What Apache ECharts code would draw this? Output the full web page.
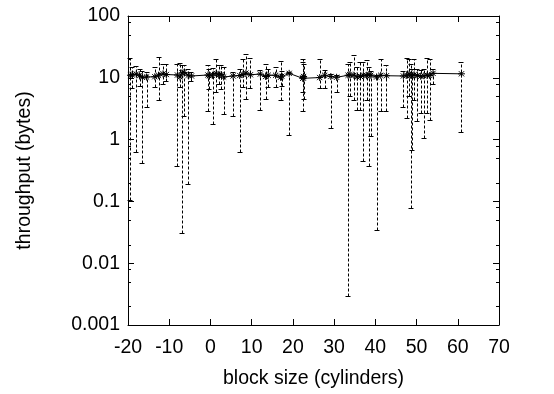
<!DOCTYPE html>
<html>
<head>
<meta charset="utf-8">
<script src="https://cdn.jsdelivr.net/npm/echarts@6/dist/echarts.min.js"></script>
<style>html,body{margin:0;padding:0;background:#fff;}#c{width:554px;height:394px;}</style>
</head>
<body>
<div id="c"></div>
<script>
const blockSize = [-19.4,-19.0,-18.0,-17.2,-16.5,-15.5,-13.5,-12.6,-11.5,-10.7,-8.0,-7.4,-6.9,-6.4,-5.4,-4.6,-0.6,-0.3,0.5,1.4,2.0,2.6,3.2,5.5,7.1,7.9,8.6,9.7,12.1,13.4,14.0,15.8,17.0,17.3,19.1,22.4,22.5,22.6,26.5,27.7,29.2,30.6,33.4,33.8,34.8,35.6,36.4,37.1,37.9,38.5,38.9,40.3,41.3,42.7,46.8,47.6,48.2,48.6,48.9,49.4,50.2,51.0,51.8,52.6,53.2,54.0,60.9];
const throughput = [11.0,11.2,11.5,10.8,10.2,10.3,10.4,11.0,11.6,11.3,11.1,10.3,12.0,12.2,11.0,10.7,11.1,10.8,11.0,11.8,11.0,11.3,10.3,10.7,10.9,11.3,11.9,11.2,11.5,10.5,11.0,11.0,10.2,10.6,11.8,9.8,10.0,10.5,10.1,11.0,10.5,10.2,11.0,11.2,11.0,10.3,10.5,11.1,10.8,11.2,11.0,10.3,11.0,10.8,10.7,11.0,11.5,11.0,10.8,11.2,10.9,10.6,10.8,11.0,10.9,11.8,11.6];
const errLow = [0.104,6.8,0.62,7.5,0.42,3.4,7.0,4.4,8.0,9.0,0.37,7.0,0.031,2.4,0.19,9.0,2.9,6.5,1.8,6.0,8.0,6.5,2.6,2.4,0.62,7.2,4.6,6.8,3.0,4.6,7.0,7.2,4.4,7.5,1.2,6.0,2.85,4.5,6.8,6.8,1.54,6.0,0.0029,5.0,4.4,3.0,3.0,0.45,4.4,0.38,1.13,0.034,2.85,2.85,3.4,2.2,5.0,0.079,0.69,4.4,1.97,2.7,1.06,2.7,2.1,8.0,1.34];
const errHigh = [21,15,15.7,14,12.9,12.5,15,22,17,16.5,17,17.5,16,16,14,12.5,16,14,14.5,20,16,16,15,12.5,14,19.8,24,21,13.4,17,14,15,19,13,12.5,18,19.8,17,19.8,13.4,11.5,11,16.5,18,23,15,18.2,18,19.3,15,13,11,20.5,16,12.9,21.3,19.8,17,14,19.8,14,13.4,14,21.3,20.5,14,17.7];
const xTicks = [-20, 70, 10];
const yRange = [0.001, 100];
const minorTickValues = [0.002,0.005,0.008,0.02,0.05,0.08,0.2,0.5,0.8,2,5,8,20,50,80];

const FONT = "'Liberation Sans', Arial, Helvetica, sans-serif";
const FS = 19.5;
const pts = blockSize.map((x, i) => [x, throughput[i]]);
const bars = blockSize.map((x, i) => [x, errLow[i], errHigh[i]]);
const minorData = minorTickValues.map(v => [v]);
const crisp = v => Math.round(v) + 0.5;

const chart = echarts.init(document.getElementById('c'), null, {renderer: 'canvas'});
const axisLineStyle = {show: true, onZero: false, lineStyle: {color: '#000', width: 1}};
const tickStyle = {show: true, inside: true, length: 6, lineStyle: {color: '#000'}};
const yFmt = v => {
  const e = Math.round(Math.log10(v));
  return e >= 0 ? String(Math.round(Math.pow(10, e))) : Math.pow(10, e).toFixed(-e);
};
chart.setOption({
  animation: false,
  backgroundColor: '#fff',
  grid: {left: 128, top: 16, right: 55, bottom: 68, containLabel: false},
  xAxis: [{
    type: 'value', min: xTicks[0], max: xTicks[1], interval: xTicks[2], position: 'bottom',
    axisLine: axisLineStyle, axisTick: tickStyle,
    axisLabel: {color: '#000', fontSize: FS, fontFamily: FONT, margin: 13},
    splitLine: {show: false},
    name: 'block size (cylinders)', nameLocation: 'middle', nameGap: 44,
    nameTextStyle: {color: '#000', fontSize: FS, fontFamily: FONT}
  }, {
    type: 'value', min: xTicks[0], max: xTicks[1], interval: xTicks[2], position: 'top',
    axisLine: axisLineStyle, axisTick: tickStyle,
    axisLabel: {show: false}, splitLine: {show: false}
  }],
  yAxis: [{
    type: 'log', logBase: 10, min: yRange[0], max: yRange[1], interval: 1, position: 'left',
    axisLine: axisLineStyle, axisTick: tickStyle,
    axisLabel: {color: '#000', fontSize: FS, fontFamily: FONT, margin: 8, formatter: yFmt},
    splitLine: {show: false},
    name: 'throughput (bytes)', nameLocation: 'middle', nameGap: 93,
    nameTextStyle: {color: '#000', fontSize: FS, fontFamily: FONT}
  }, {
    type: 'log', logBase: 10, min: yRange[0], max: yRange[1], interval: 1, position: 'right',
    axisLine: axisLineStyle, axisTick: tickStyle,
    axisLabel: {show: false}, splitLine: {show: false}
  }],
  series: [{
    type: 'custom', xAxisIndex: 0, yAxisIndex: 0, clip: false, silent: true,
    data: minorData,
    encode: {y: 0},
    renderItem: (params, api) => {
      const v = api.value(0);
      const pl = api.coord([xTicks[0], v]);
      const pr = api.coord([xTicks[1], v]);
      const y = crisp(pl[1]);
      return {type: 'group', children: [
        {type: 'line', shape: {x1: pl[0], y1: y, x2: pl[0] + 3, y2: y}, style: {stroke: '#000', lineWidth: 1}},
        {type: 'line', shape: {x1: pr[0] - 3, y1: y, x2: pr[0], y2: y}, style: {stroke: '#000', lineWidth: 1}}
      ]};
    }
  }, {
    type: 'custom', xAxisIndex: 0, yAxisIndex: 0, silent: true,
    data: bars,
    encode: {x: 0, y: [1, 2]},
    renderItem: (params, api) => {
      const x = api.value(0), lo = api.value(1), hi = api.value(2);
      const p1 = api.coord([x, lo]), p2 = api.coord([x, hi]);
      const cx = crisp(p1[0]);
      const y1 = crisp(p1[1]), y2 = crisp(p2[1]);
      return {type: 'group', children: [
        {type: 'line', shape: {x1: cx, y1: y1, x2: cx, y2: y2}, style: {stroke: '#000', lineWidth: 1, lineDash: [3, 2]}},
        {type: 'line', shape: {x1: cx - 3, y1: y1, x2: cx + 2, y2: y1}, style: {stroke: '#000', lineWidth: 1}},
        {type: 'line', shape: {x1: cx - 3, y1: y2, x2: cx + 2, y2: y2}, style: {stroke: '#000', lineWidth: 1}}
      ]};
    }
  }, {
    type: 'line', xAxisIndex: 0, yAxisIndex: 0, data: pts, symbol: 'none',
    lineStyle: {color: '#000', width: 1}, silent: true
  }, {
    type: 'custom', xAxisIndex: 0, yAxisIndex: 0, silent: true,
    data: pts,
    encode: {x: 0, y: 1},
    renderItem: (params, api) => {
      const p = api.coord([api.value(0), api.value(1)]);
      const r = 3.5, d = 2.6;
      const s = {stroke: '#000', lineWidth: 1};
      return {type: 'group', children: [
        {type: 'line', shape: {x1: p[0] - r, y1: p[1], x2: p[0] + r, y2: p[1]}, style: s},
        {type: 'line', shape: {x1: p[0], y1: p[1] - r, x2: p[0], y2: p[1] + r}, style: s},
        {type: 'line', shape: {x1: p[0] - d, y1: p[1] - d, x2: p[0] + d, y2: p[1] + d}, style: s},
        {type: 'line', shape: {x1: p[0] - d, y1: p[1] + d, x2: p[0] + d, y2: p[1] - d}, style: s}
      ]};
    }
  }]
});
</script>
</body>
</html>
